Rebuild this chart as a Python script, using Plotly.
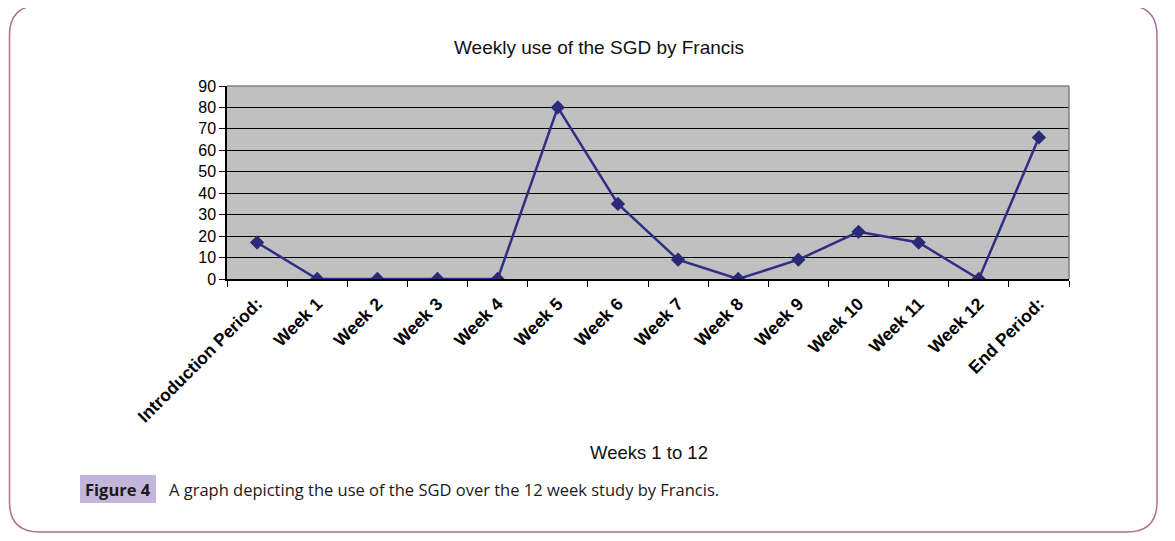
import plotly.graph_objects as go

categories = ["Introduction Period:", "Week 1", "Week 2", "Week 3", "Week 4", "Week 5",
              "Week 6", "Week 7", "Week 8", "Week 9", "Week 10", "Week 11", "Week 12",
              "End Period:"]
values = [17, 0, 0, 0, 0, 80, 35, 9, 0, 9, 22, 17, 0, 66]
y_ticks = [0, 10, 20, 30, 40, 50, 60, 70, 80, 90]

OFF = 8  # page body margin
W, H = 1175 - OFF, 541 - OFF
L, R, T, B = 227 - OFF, 1069 - OFF, 86 - OFF, 279 - OFF  # plot area pixels in figure coords

def px(x):
    return (x - OFF - L) / (R - L)

def py(y):
    return (B - (y - OFF)) / (B - T)

fig = go.Figure()
fig.add_trace(go.Scatter(
    x=categories, y=values, mode="lines+markers",
    line=dict(color="#2F2F85", width=2.5),
    marker=dict(symbol="diamond", size=11, color="#2A2A78"),
    hoverinfo="x+y", showlegend=False,
))

# rounded frame (window pixel coords)
x0, x1, y0, y1, r = 9.5, 1157, 5.5, 532, 30
path = (f"M {px(x0+r)},{py(y0)} L {px(x1-r)},{py(y0)} "
        f"Q {px(x1)},{py(y0)} {px(x1)},{py(y0+r)} "
        f"L {px(x1)},{py(y1-r)} Q {px(x1)},{py(y1)} {px(x1-r)},{py(y1)} "
        f"L {px(x0+r)},{py(y1)} Q {px(x0)},{py(y1)} {px(x0)},{py(y1-r)} "
        f"L {px(x0)},{py(y0+r)} Q {px(x0)},{py(y0)} {px(x0+r)},{py(y0)} Z")

shapes = [
    dict(type="path", xref="paper", yref="paper", path=path,
         line=dict(color="#A9729C", width=1.5), fillcolor="rgba(0,0,0,0)", layer="below"),
    dict(type="line", xref="paper", yref="paper", x0=0, x1=1, y0=1, y1=1,
         line=dict(color="#808080", width=1.5)),
    dict(type="line", xref="paper", yref="paper", x0=1, x1=1, y0=0, y1=1,
         line=dict(color="#808080", width=1.5)),
    dict(type="rect", xref="paper", yref="paper", x0=px(80), x1=px(156), y0=py(503), y1=py(475),
         fillcolor="#C3B6DA", line=dict(width=0), layer="below"),
]

annotations = [
    dict(text="Weekly use of the SGD by Francis", xref="paper", yref="paper",
         x=px(599), y=py(48), showarrow=False, xanchor="center", yanchor="middle",
         font=dict(family="Liberation Sans, Arial", size=19, color="#111")),
    dict(text="Weeks 1 to 12", xref="paper", yref="paper",
         x=px(649), y=py(452), showarrow=False, xanchor="center", yanchor="middle",
         font=dict(family="Liberation Sans, Arial", size=18.5, color="#111")),
    dict(text="<b>Figure 4</b>", xref="paper", yref="paper",
         x=px(118), y=py(489), showarrow=False, xanchor="center", yanchor="middle",
         font=dict(family="Open Sans, Noto Sans", size=16.5, color="#1a1a1a")),
    dict(text="A graph depicting the use of the SGD over the 12 week study by Francis.",
         xref="paper", yref="paper",
         x=px(167), y=py(489), showarrow=False, xanchor="left", yanchor="middle",
         font=dict(family="Open Sans, Noto Sans", size=16.5, color="#1a1a1a")),
]

fig.update_layout(
    width=W, height=H,
    margin=dict(l=L, r=W - R, t=T, b=H - B),
    paper_bgcolor="white", plot_bgcolor="#C0C0C0",
    shapes=shapes, annotations=annotations,
    xaxis=dict(
        type="category", tickangle=-45, tickson="boundaries",
        ticks="outside", ticklen=6, tickcolor="#000", tickwidth=1,
        showline=True, linecolor="#000", linewidth=1.5,
        showgrid=False, zeroline=False, ticklabelstandoff=6,
        tickfont=dict(family="Liberation Sans, Arial", size=17.5, color="#000", weight="bold"),
        range=[-0.5, 13.5],
    ),
    yaxis=dict(
        range=[0, 90], tickvals=y_ticks, ticks="outside", ticklen=6, tickcolor="#000",
        showline=True, linecolor="#000", linewidth=1.5,
        showgrid=True, gridcolor="#000", gridwidth=1, zeroline=False,
        tickfont=dict(family="Liberation Sans, Arial", size=16, color="#000"),
    ),
)

fig.write_html("out.html")
